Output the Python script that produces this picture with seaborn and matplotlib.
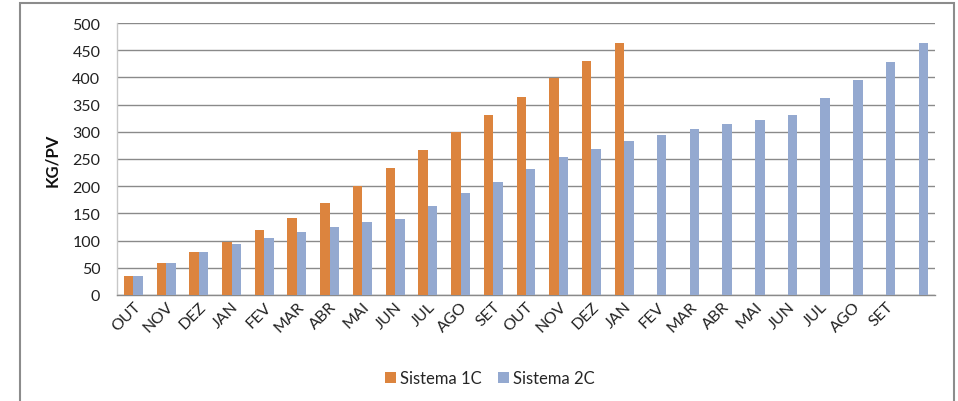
import numpy as np
import pandas as pd
import matplotlib
matplotlib.use("Agg")
import matplotlib.pyplot as plt
from matplotlib.patches import Patch, Rectangle
import seaborn as sns

# Monthly labels (last slot left blank)
months = ["OUT", "NOV", "DEZ", "JAN", "FEV", "MAR", "ABR", "MAI", "JUN", "JUL",
          "AGO", "SET", "OUT", "NOV", "DEZ", "JAN", "FEV", "MAR", "ABR", "MAI",
          "JUN", "JUL", "AGO", "SET", ""]

sistema_1c = [35, 58, 79, 97, 119, 142, 170, 200, 233, 266, 299, 331, 364,
              398, 431, 464]
sistema_2c = [35, 58, 79, 94, 105, 115, 125, 134, 140, 163, 187, 208, 231,
              254, 269, 283, 294, 305, 315, 322, 330, 363, 396, 429, 463]

series_names = ["Sistema 1C", "Sistema 2C"]
colors = ["#DC843E", "#94A9D0"]

n = len(months)
s1 = sistema_1c + [np.nan] * (n - len(sistema_1c))
df = pd.DataFrame({
    "pos": list(range(n)) * 2,
    "kg": s1 + sistema_2c,
    "sistema": [series_names[0]] * n + [series_names[1]] * n,
})

sns.set_theme(style="white")
plt.rcParams["font.family"] = ["Lato", "DejaVu Sans"]

fig = plt.figure(figsize=(9.58, 4.02), dpi=100)
ax = fig.add_axes([117 / 958, 1 - 296 / 402, (935 - 117) / 958, (296 - 24) / 402])

sns.barplot(data=df, x="pos", y="kg", hue="sistema", hue_order=series_names,
            palette=colors, width=0.58, gap=0, dodge=True,
            order=list(range(n)), linewidth=0, saturation=1, ax=ax,
            legend=False, zorder=3)

ax.set_xlim(-0.5, n - 0.5)
ax.set_ylim(0, 500)
ax.set_yticks(np.arange(0, 501, 50))
ax.set_yticklabels([str(v) for v in range(0, 501, 50)], fontsize=11.5, color="#222222")
ax.set_xticks(range(n))
ax.set_xticklabels(months, rotation=45, ha="right", rotation_mode="anchor",
                   fontsize=11.5, color="#222222")
ax.tick_params(axis="both", length=0)
ax.tick_params(axis="x", pad=3)
ax.tick_params(axis="y", pad=12)

ax.yaxis.grid(True, color="#8A8A8A", linewidth=1, zorder=0)
ax.set_axisbelow(True)
for side in ["top", "right"]:
    ax.spines[side].set_visible(False)
ax.spines["left"].set_color("#C8C8C8")
ax.spines["bottom"].set_color("#8A8A8A")
ax.spines["left"].set_linewidth(1)
ax.spines["bottom"].set_linewidth(1)

ax.set_xlabel("")
ax.set_ylabel("KG/PV", fontsize=12, fontweight="bold", color="#111111", labelpad=9)

handles = [Patch(facecolor=c, edgecolor="none", label=l) for c, l in zip(colors, series_names)]
fig.legend(handles=handles, loc="center", bbox_to_anchor=(490 / 958, 1 - 379 / 402),
           ncol=2, frameon=False, fontsize=12, handlelength=0.65, handleheight=0.65,
           handletextpad=0.25, columnspacing=1.0)

# Outer chart frame
fig.patches.append(Rectangle((20 / 958, -0.05), (954 - 20) / 958, 1.05 - 4 / 402,
                             transform=fig.transFigure, fill=False,
                             edgecolor="#8C8C8C", linewidth=1.5, zorder=10))

fig.savefig("out.png", dpi=100)
